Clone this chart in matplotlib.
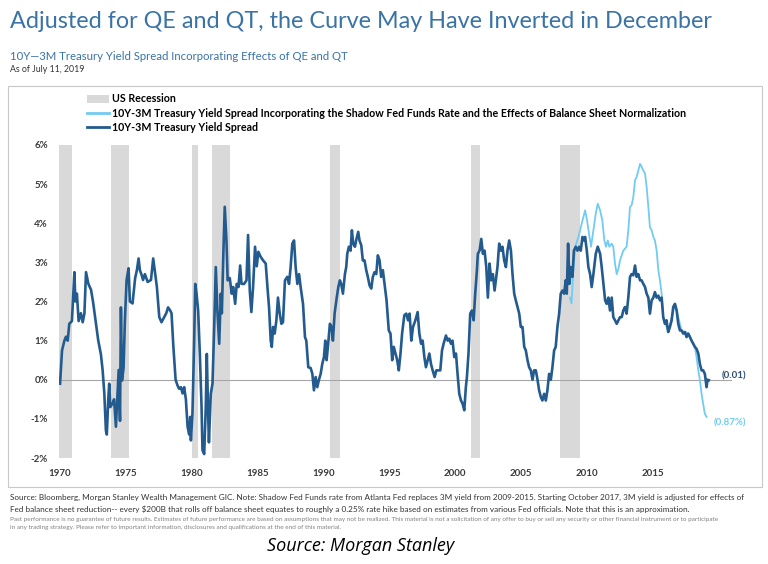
import matplotlib
matplotlib.use('Agg')
import matplotlib.pyplot as plt
from matplotlib.patches import Patch, Rectangle
from matplotlib.lines import Line2D

# 10Y-3M spread
dark_years = [
    1970.00, 1970.15, 1970.33, 1970.45, 1970.58, 1970.70, 1970.90, 1971.09, 1971.16, 1971.28,
    1971.41, 1971.58, 1971.72, 1971.85, 1971.97, 1972.15, 1972.35, 1972.50, 1972.70, 1972.90,
    1973.10, 1973.23, 1973.36, 1973.48, 1973.55, 1973.66, 1973.73, 1973.81, 1973.99, 1974.10,
    1974.24, 1974.37, 1974.45, 1974.55, 1974.62, 1974.70, 1974.82, 1974.92, 1975.05, 1975.20,
    1975.30, 1975.50, 1975.70, 1975.83, 1975.96, 1976.06, 1976.20, 1976.30, 1976.44, 1976.65,
    1976.90, 1977.07, 1977.22, 1977.35, 1977.53, 1977.70, 1977.90, 1978.06, 1978.20, 1978.36,
    1978.46, 1978.60, 1978.77, 1978.92, 1979.04, 1979.17, 1979.30, 1979.42, 1979.55, 1979.68,
    1979.80, 1979.88, 1979.93, 1980.05, 1980.18, 1980.26, 1980.36, 1980.48, 1980.61, 1980.74,
    1980.81, 1980.94, 1981.06, 1981.14, 1981.24, 1981.30, 1981.44, 1981.57, 1981.70, 1981.82,
    1981.95, 1982.08, 1982.20, 1982.28, 1982.40, 1982.50, 1982.63, 1982.72, 1982.88, 1983.03,
    1983.14, 1983.29, 1983.41, 1983.54, 1983.67, 1983.77, 1983.97, 1984.15, 1984.27, 1984.40,
    1984.52, 1984.65, 1984.80, 1984.93, 1985.05, 1985.23, 1985.41, 1985.61, 1985.74, 1985.86,
    1985.99, 1986.07, 1986.17, 1986.29, 1986.42, 1986.54, 1986.67, 1986.80, 1986.92, 1987.07,
    1987.25, 1987.38, 1987.50, 1987.63, 1987.76, 1987.88, 1988.01, 1988.14, 1988.26, 1988.44,
    1988.59, 1988.69, 1988.84, 1989.02, 1989.15, 1989.27, 1989.40, 1989.52, 1989.65, 1989.78,
    1989.90, 1990.03, 1990.13, 1990.23, 1990.33, 1990.48, 1990.61, 1990.71, 1990.84, 1991.00,
    1991.12, 1991.24, 1991.34, 1991.47, 1991.62, 1991.72, 1991.80, 1991.92, 1992.05, 1992.15,
    1992.25, 1992.38, 1992.50, 1992.63, 1992.73, 1992.86, 1992.98, 1993.11, 1993.24, 1993.36,
    1993.49, 1993.62, 1993.74, 1993.87, 1994.00, 1994.12, 1994.25, 1994.37, 1994.50, 1994.63,
    1994.78, 1994.95, 1995.08, 1995.21, 1995.33, 1995.46, 1995.59, 1995.71, 1995.84, 1995.96,
    1996.13, 1996.28, 1996.41, 1996.53, 1996.66, 1996.79, 1996.97, 1997.14, 1997.27, 1997.40,
    1997.52, 1997.65, 1997.77, 1997.90, 1998.03, 1998.15, 1998.28, 1998.43, 1998.56, 1998.68,
    1998.86, 1998.99, 1999.11, 1999.29, 1999.42, 1999.54, 1999.67, 1999.79, 1999.92, 2000.05,
    2000.17, 2000.30, 2000.43, 2000.55, 2000.68, 2000.80, 2000.88, 2001.00, 2001.13, 2001.26,
    2001.39, 2001.51, 2001.64, 2001.71, 2001.84, 2001.97, 2002.09, 2002.22, 2002.35, 2002.47,
    2002.60, 2002.72, 2002.85, 2002.98, 2003.20, 2003.33, 2003.46, 2003.58, 2003.71, 2003.84,
    2003.96, 2004.09, 2004.22, 2004.34, 2004.47, 2004.59, 2004.72, 2004.85, 2004.97, 2005.10,
    2005.23, 2005.35, 2005.48, 2005.60, 2005.73, 2005.86, 2005.98, 2006.11, 2006.24, 2006.36,
    2006.49, 2006.61, 2006.74, 2006.87, 2006.99, 2007.12, 2007.25, 2007.37, 2007.50, 2007.62,
    2007.75, 2007.88, 2008.00, 2008.13, 2008.26, 2008.38, 2008.46, 2008.56, 2008.66, 2008.76,
    2008.89, 2009.00, 2009.14, 2009.27, 2009.40, 2009.52, 2009.65, 2009.77, 2009.85, 2009.98,
    2010.10, 2010.23, 2010.35, 2010.48, 2010.66, 2010.81, 2010.99, 2011.11, 2011.24, 2011.37,
    2011.49, 2011.62, 2011.74, 2011.87, 2011.99, 2012.12, 2012.25, 2012.38, 2012.50, 2012.63,
    2012.75, 2012.88, 2013.00, 2013.13, 2013.26, 2013.38, 2013.51, 2013.64, 2013.76, 2013.89,
    2014.02, 2014.14, 2014.27, 2014.40, 2014.52, 2014.65, 2014.77, 2014.90, 2015.03, 2015.15,
    2015.28, 2015.41, 2015.53, 2015.66, 2015.78, 2015.91, 2016.03, 2016.16, 2016.29, 2016.42,
    2016.54, 2016.67, 2016.80, 2016.92, 2017.05, 2017.17, 2017.30, 2017.43, 2017.55, 2017.68,
    2017.81, 2017.93, 2018.06, 2018.18, 2018.31, 2018.44, 2018.56, 2018.69, 2018.81, 2018.94,
    2019.07, 2019.14, 2019.24]
dark_vals = [
    -0.10, 0.75, 1.00, 1.10, 1.00, 1.43, 1.50, 2.75, 2.00, 2.20,
    1.50, 1.70, 1.47, 1.70, 2.75, 2.45, 2.30, 2.00, 1.50, 1.00,
    0.65, 0.25, -0.35, -1.30, -1.40, -0.50, -0.10, -0.70, -0.60, -0.50,
    -1.20, -0.27, 0.25, -1.05, 1.85, -0.02, 0.30, 1.50, 2.55, 2.85,
    2.00, 1.95, 2.60, 2.80, 3.10, 2.80, 2.67, 2.55, 2.70, 2.50,
    2.55, 3.10, 2.70, 2.37, 1.60, 1.47, 1.60, 1.70, 1.85, 1.77,
    1.70, 0.85, 0.00, -0.15, -0.23, -0.19, -0.35, -0.19, -0.50, -1.20,
    -1.40, -0.95, -1.55, -0.85, 1.00, 2.45, 2.20, 1.77, 0.66, -0.70,
    -1.80, -1.90, -0.70, 0.66, -0.87, -1.60, -0.36, -0.10, 1.35, 2.88,
    1.70, 0.92, 2.20, 1.70, 3.30, 4.42, 3.56, 2.54, 2.60, 2.20,
    2.37, 1.94, 2.45, 2.37, 2.92, 2.45, 2.45, 2.54, 3.70, 2.28,
    1.73, 2.37, 3.40, 2.90, 3.27, 3.14, 3.05, 2.97, 2.37, 1.86,
    1.00, 0.84, 1.35, 1.18, 1.52, 2.10, 1.70, 1.43, 1.47, 2.54,
    2.63, 2.45, 2.88, 3.48, 3.56, 2.88, 2.45, 2.70, 2.37, 1.94,
    1.09, 1.00, 0.32, 0.30, 0.15, -0.27, 0.07, -0.19, 0.00, 0.15,
    0.40, 0.58, 1.00, 0.50, 0.84, 1.43, 1.35, 1.00, 1.70, 2.10,
    2.37, 2.54, 2.45, 2.20, 2.70, 2.88, 3.22, 3.40, 3.30, 3.82,
    3.48, 3.40, 3.60, 3.78, 3.56, 3.44, 3.05, 3.05, 2.80, 2.63,
    2.41, 2.33, 2.63, 2.75, 2.70, 3.18, 3.05, 2.63, 2.80, 2.45,
    2.03, 1.26, 1.18, 0.50, 0.84, 0.67, 0.50, 0.24, 0.67, 1.18,
    1.65, 1.69, 1.52, 1.69, 1.00, 1.35, 1.52, 1.73, 1.18, 0.92,
    1.00, 0.58, 0.32, 0.50, 0.67, 0.41, 0.24, 0.07, 0.24, 0.24,
    0.24, 0.75, 0.92, 1.13, 1.00, 1.05, 0.92, 1.00, 0.58, 0.67,
    0.15, -0.36, -0.53, -0.61, -0.78, -0.19, 0.07, 0.67, 1.69, 1.77,
    1.52, 2.20, 2.80, 3.22, 3.30, 3.60, 3.22, 3.30, 2.88, 2.10,
    2.97, 2.54, 2.70, 2.28, 2.88, 3.48, 3.30, 3.40, 3.05, 2.88,
    3.30, 3.56, 3.30, 2.70, 2.20, 2.03, 1.86, 1.69, 1.35, 1.35,
    0.84, 0.75, 0.50, 0.32, 0.24, 0.00, 0.24, 0.24, 0.00, -0.27,
    -0.44, -0.53, -0.36, -0.53, -0.27, 0.15, 0.00, 0.32, 0.75, 0.84,
    1.35, 1.69, 2.20, 2.28, 2.20, 2.54, 2.20, 3.48, 2.45, 2.88,
    2.63, 3.30, 3.40, 3.30, 3.40, 3.30, 3.65, 3.56, 3.65, 3.30,
    2.88, 2.70, 2.37, 2.70, 3.22, 3.40, 3.22, 2.88, 2.45, 2.03,
    1.94, 2.10, 1.77, 2.10, 1.60, 1.52, 1.43, 1.52, 1.60, 1.60,
    1.77, 1.86, 1.69, 2.10, 2.63, 2.70, 2.67, 2.92, 2.63, 2.70,
    2.54, 2.54, 2.45, 2.37, 2.20, 2.10, 1.69, 2.03, 2.10, 2.24,
    2.10, 2.15, 2.03, 2.10, 1.60, 1.43, 1.52, 1.22, 1.35, 1.52,
    1.86, 1.94, 1.77, 1.43, 1.26, 1.26, 1.18, 1.22, 1.09, 1.18,
    1.09, 1.00, 0.92, 0.84, 0.79, 0.67, 0.41, 0.24, 0.24, 0.15,
    -0.19, 0.00, -0.01]

# spread incorporating shadow fed funds rate and balance sheet normalization
light_years = [
    2008.70, 2008.82, 2008.94, 2009.10, 2009.35, 2009.60, 2009.85, 2010.00, 2010.15, 2010.30,
    2010.48, 2010.66, 2010.81, 2010.99, 2011.16, 2011.31, 2011.44, 2011.57, 2011.69, 2011.87,
    2011.99, 2012.12, 2012.25, 2012.38, 2012.50, 2012.63, 2012.75, 2012.88, 2013.00, 2013.13,
    2013.26, 2013.38, 2013.51, 2013.64, 2013.76, 2013.89, 2014.02, 2014.14, 2014.27, 2014.40,
    2014.52, 2014.65, 2014.77, 2014.90, 2015.03, 2015.15, 2015.28, 2015.41, 2015.53, 2015.66,
    2015.78, 2016.16, 2016.67, 2017.17, 2017.68, 2018.06, 2018.18, 2018.31, 2018.44, 2018.56,
    2018.69, 2018.81, 2018.94, 2019.07]
light_vals = [
    2.10, 1.95, 2.70, 3.40, 3.65, 4.00, 4.33, 4.07, 3.73, 3.40,
    3.82, 4.25, 4.50, 4.33, 4.07, 3.56, 3.40, 3.56, 3.40, 3.48,
    3.40, 2.97, 2.70, 2.84, 3.05, 3.18, 3.30, 3.35, 3.40, 3.82,
    4.42, 4.46, 4.67, 5.10, 5.18, 5.35, 5.52, 5.44, 5.35, 5.27,
    4.93, 4.42, 3.90, 3.82, 3.65, 3.56, 3.30, 2.80, 2.54, 2.20,
    1.60, 1.22, 1.94, 1.26, 1.18, 0.92, 0.84, 0.58, 0.24, 0.00,
    -0.36, -0.61, -0.87, -0.95]

recessions = [(1969.92, 1970.88), (1973.83, 1975.21), (1980.0, 1980.5), (1981.5, 1982.88),
              (1990.5, 1991.21), (2001.17, 2001.88), (2007.92, 2009.46)]

x_ticks = [1970, 1975, 1980, 1985, 1990, 1995, 2000, 2005, 2010, 2015]
y_ticks = [-2, -1, 0, 1, 2, 3, 4, 5, 6]

W, H = 768, 564
DARK = '#245b8e'
LIGHT = '#72cbf2'
BLUE_TXT = '#3a73a6'
FONT = 'Lato'


def fp(x, y):
    # pixel -> figure fraction
    return x / W, 1 - y / H


fig = plt.figure(figsize=(W / 100, H / 100), dpi=100)

# chart frame
fig.patches.append(Rectangle(fp(8, 487), (762 - 8) / W, (487 - 86) / H, transform=fig.transFigure,
                             fill=False, edgecolor='#c8c8c8', lw=0.8))

ax = fig.add_axes([59 / W, 1 - 458 / H, (732 - 59) / W, 313 / H])
for a, b in recessions:
    ax.axvspan(a, b, color='#d9d9d9', lw=0, zorder=0)
ax.axhline(0, color='#a6a6a6', lw=0.8, zorder=1)
ax.plot(light_years, light_vals, color=LIGHT, lw=1.3, zorder=2)
ax.plot(dark_years, dark_vals, color=DARK, lw=1.9, zorder=3)

ax.set_xlim(1969.92, 2021)
ax.set_ylim(-2, 6)
ax.set_xticks(x_ticks)
ax.set_xticklabels([str(t) for t in x_ticks], fontsize=7, fontweight='bold', color='#3a3a3a', family=FONT)
ax.set_yticks(y_ticks)
ax.set_yticklabels(['%d%%' % t for t in y_ticks], fontsize=7, fontweight='bold', color='#3a3a3a', family=FONT)
ax.tick_params(length=0, pad=8)
for s in ax.spines.values():
    s.set_visible(False)

ax.text(dark_years[-1] + 1.0, dark_vals[-1] + 0.1, '(0.01)', fontsize=7, fontweight='bold',
        color='#2d4f77', va='center', family=FONT)
ax.text(light_years[-1] + 0.5, light_vals[-1] - 0.15, '(0.87%)', fontsize=7, fontweight='bold',
        color=LIGHT, va='center', family=FONT)

handles = [Patch(facecolor='#d9d9d9', edgecolor='none'),
           Line2D([], [], color=LIGHT, lw=2),
           Line2D([], [], color=DARK, lw=2)]
labels = ['US Recession',
          '10Y-3M Treasury Yield Spread Incorporating the Shadow Fed Funds Rate and the Effects of Balance Sheet Normalization',
          '10Y-3M Treasury Yield Spread']
fig.legend(handles, labels, loc='upper left', bbox_to_anchor=fp(82, 88), frameon=False,
           prop={'family': FONT, 'size': 7.7, 'weight': 'bold'}, handlelength=2.0, handleheight=0.8,
           handletextpad=0.3, labelspacing=0.3, borderpad=0)

# titles
fig.text(*fp(10, 22), 'Adjusted for QE and QT, the Curve May Have Inverted in December',
         fontsize=16.8, color=BLUE_TXT, va='center', family=FONT)
fig.text(*fp(10, 57), '10Y\u20143M Treasury Yield Spread Incorporating Effects of QE and QT',
         fontsize=8.2, color=BLUE_TXT, va='center', family=FONT)
fig.text(*fp(10, 70), 'As of July 11, 2019', fontsize=6.3, color='#333333', va='center', family=FONT)

# footnotes
fig.text(*fp(10, 497), 'Source: Bloomberg, Morgan Stanley Wealth Management GIC. Note: Shadow Fed Funds rate from '
         'Atlanta Fed replaces 3M yield from 2009-2015. Starting October 2017, 3M yield is adjusted for effects of',
         fontsize=5.9, color='#333333', va='center', family=FONT)
fig.text(*fp(10, 509), 'Fed balance sheet reduction-- every $200B that rolls off balance sheet equates to roughly a '
         '0.25% rate hike based on estimates from various Fed officials. Note that this is an approximation.',
         fontsize=5.9, color='#333333', va='center', family=FONT)
fig.text(*fp(10, 519), 'Past performance is no guarantee of future results. Estimates of future performance are '
         'based on assumptions that may not be realized. This material is not a solicitation of any offer to buy '
         'or sell any security or other financial instrument or to participate',
         fontsize=4.6, color='#808080', va='center', family=FONT)
fig.text(*fp(10, 527), 'in any trading strategy. Please refer to important information, disclosures and '
         'qualifications at the end of this material.',
         fontsize=4.6, color='#808080', va='center', family=FONT)
fig.text(*fp(361, 546), 'Source: Morgan Stanley', fontsize=13, style='italic', color='black',
         ha='center', va='center', family='Open Sans')

fig.savefig('out.png', dpi=100)
